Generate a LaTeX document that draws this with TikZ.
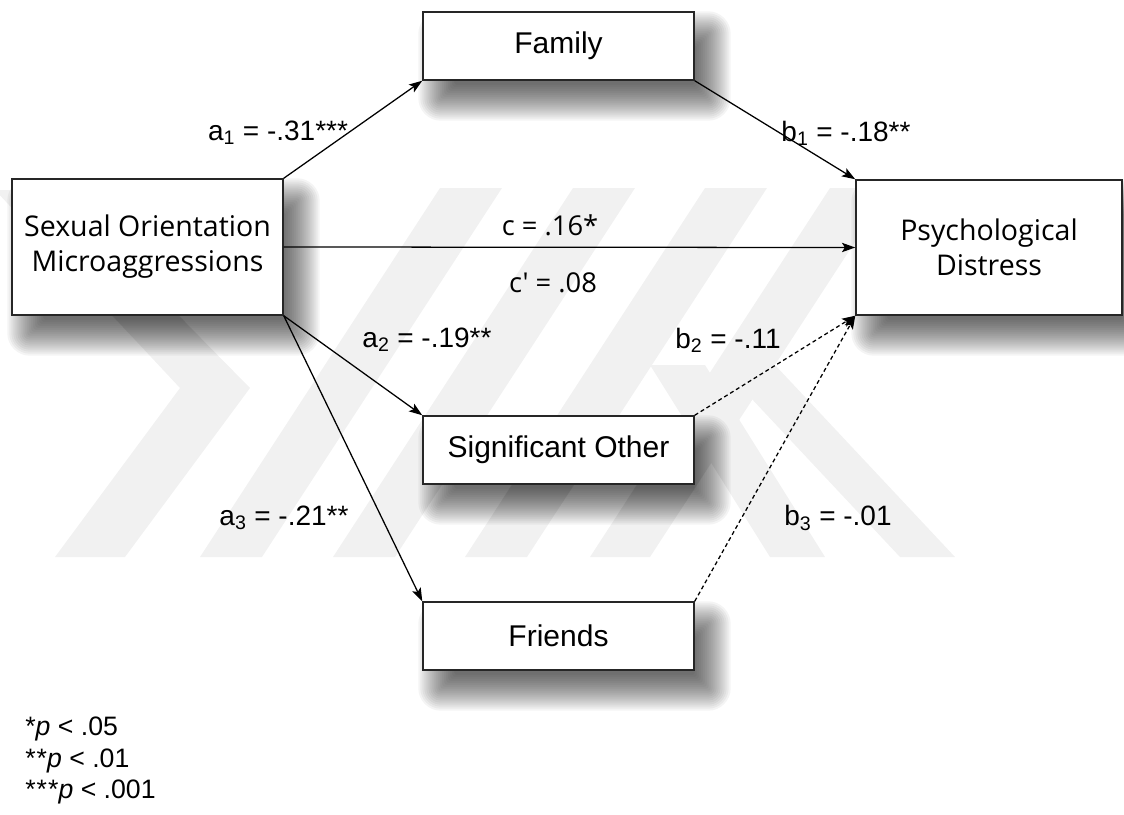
\documentclass[tikz,border=0pt]{standalone}
\usepackage{fontspec}
\setmainfont{Liberation Sans}
\newfontfamily\segoe{Open Sans}
\usetikzlibrary{arrows.meta,backgrounds}
\definecolor{wm}{gray}{0.945}
\definecolor{edgec}{gray}{0.15}
\tikzset{
  box/.style={draw=edgec, line width=1.1pt, fill=white, inner sep=0pt},
  smallbox/.style={box, minimum width=203.25pt, minimum height=51pt, font=\fontsize{22.5}{27}\selectfont},
  bigbox/.style={box, align=center, font=\segoe\fontsize{21.4}{26.25}\selectfont},
  path/.style={line width=0.95pt, draw=black, -{Stealth[length=10pt,width=7pt,inset=2.2pt]}},
  dpath/.style={path, dash pattern=on 3pt off 2.2pt},
  lbl/.style={font=\fontsize{21}{25}\selectfont, inner sep=0pt},
  clbl/.style={font=\segoe\fontsize{20.5}{25}\selectfont, inner sep=0pt},
  leg/.style={font=\fontsize{20}{24}\selectfont, inner sep=0pt, anchor=base west},
  wmark/.style={fill=wm, draw=none},
  shadelayer/.style={fill=black, opacity=0.045, draw=none}
}
\newcommand{\st}{*\kern0.8pt}
\begin{document}
\begin{tikzpicture}[x=0.75pt,y=-0.75pt]
\useasboundingbox (0,0) rectangle (1124,814);
% boxes
\node[smallbox] (fam) at (558.5,46) {Family};
\node[smallbox] (so) at (558.5,450) {Significant Other};
\node[smallbox] (fr) at (558.5,636) {Friends};
\node[bigbox, minimum width=203.25pt, minimum height=102pt] (som) at (147.5,247) {Sexual Orientation\\Microaggressions};
\node[bigbox, minimum width=199.5pt, minimum height=101.25pt] (pd) at (989,247.5) {Psychological\\Distress};
\begin{pgfonlayer}{background}
% watermark
\fill[wmark] (200,557) -- (262,557) -- (502,188) -- (440,188) -- cycle;
\fill[wmark] (333,557) -- (395,557) -- (635,188) -- (573,188) -- cycle;
\fill[wmark] (465,557) -- (527,557) -- (767,188) -- (705,188) -- cycle;
\fill[wmark] (590,557) -- (650,557) -- (890,188) -- (830,188) -- cycle;
\fill[wmark] (55,190) -- (250,388) -- (125,557) -- (55,557) -- (180,388) -- (-5,190) -- cycle;
\fill[wmark] (650,365) -- (705,365) -- (825,557) -- (770,557) -- cycle;
\fill[wmark] (720,365) -- (775,365) -- (955,557) -- (900,557) -- cycle;
% soft shadows
\foreach \n in {fam,so,fr,som,pd}{
  \foreach \g [evaluate=\g as \r using {max(\g,0)+2}] in {-12,-10.5,...,15}{
    \fill[shadelayer, rounded corners=\r pt]
      ([xshift=12pt-\g pt, yshift=-15pt-\g pt]\n.south west) rectangle
      ([xshift=12pt+\g pt, yshift=-15pt+\g pt]\n.north east);
  }
}
\end{pgfonlayer}
% connectors
\draw[path] (som.north east) -- (fam.south west);
\draw[path] (fam.south east) -- (pd.north west);
\draw[path] (som.east) -- (pd.west);
\draw[path] (som.south east) -- (so.north west);
\draw[path] (som.south east) -- (fr.north west);
\draw[dpath] (so.north east) -- (pd.south west);
\draw[dpath] (fr.north east) -- (pd.south west);
% labels
\node[lbl] (la1) at (278,133) {a\textsubscript{1} = -.31***};
\node[lbl] (lb1) at (846,133) {b\textsubscript{1} = -.18**};
\node[clbl] (lc) at (550,225) {c = .16*};
\node[clbl] (lcp) at (553,283) {c' = .08};
\node[lbl] (la2) at (427,340) {a\textsubscript{2} = -.19**};
\node[lbl] (lb2) at (728,340) {b\textsubscript{2} = -.11};
\node[lbl] (la3) at (284,518) {a\textsubscript{3} = -.21**};
\node[lbl] (lb3) at (838,518) {b\textsubscript{3} = -.01};
% legend
\node[leg] (l1) at (25,735) {*\textit{p} < .05};
\node[leg] (l2) at (25,767) {\st*\textit{p} < .01};
\node[leg] (l3) at (25,798) {\st\st*\textit{p} < .001};
\end{tikzpicture}
\end{document}
